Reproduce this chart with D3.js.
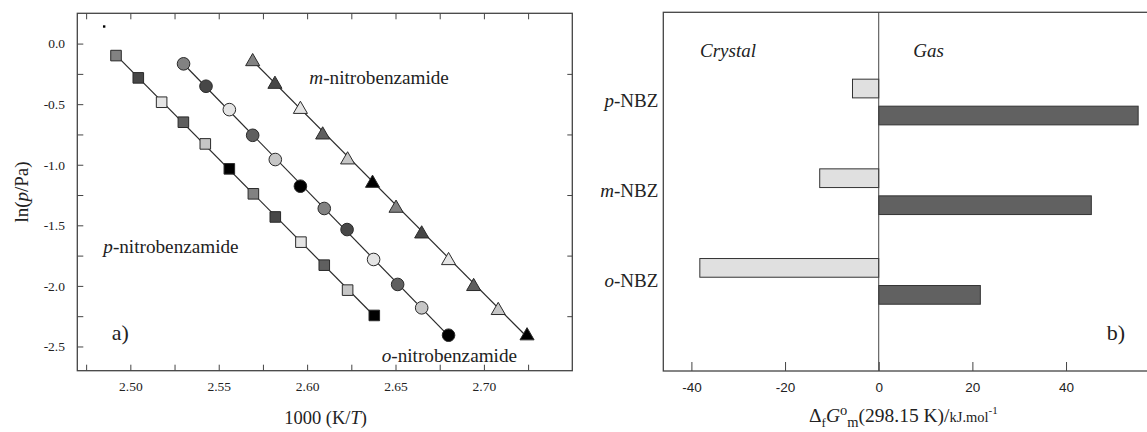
<!DOCTYPE html>
<html>
<head>
<meta charset="utf-8">
<script src="https://cdn.jsdelivr.net/npm/d3@7"></script>
<style>
  html, body { margin: 0; padding: 0; background: #fff; }
  svg { display: block; }
</style>
</head>
<body>
<svg id="chart" width="1147" height="432"></svg>
<script>
// ---- Panel a: vapour pressure, x = 1000 (K/T), y = ln(p/Pa) ----
const pInvT = [2.4919, 2.5045, 2.5177, 2.5300, 2.5424, 2.5560, 2.5696, 2.5820, 2.5965, 2.6097, 2.6229, 2.6380];
const pLnP  = [-0.099, -0.283, -0.484, -0.649, -0.828, -1.034, -1.240, -1.431, -1.639, -1.829, -2.035, -2.244];
const oInvT = [2.5301, 2.5428, 2.5560, 2.5692, 2.5820, 2.5962, 2.6097, 2.6226, 2.6376, 2.6512, 2.6648, 2.6800];
const oLnP  = [-0.167, -0.352, -0.545, -0.757, -0.957, -1.177, -1.361, -1.535, -1.782, -1.988, -2.181, -2.407];
const mInvT = [2.5692, 2.5818, 2.5962, 2.6088, 2.6229, 2.6370, 2.6503, 2.6648, 2.6800, 2.6942, 2.7081, 2.7244];
const mLnP  = [-0.132, -0.319, -0.526, -0.737, -0.943, -1.136, -1.342, -1.554, -1.774, -1.988, -2.186, -2.395];
// isolated small dot near the top-left corner of panel a
const dotInvT = [2.4852];
const dotLnP  = [0.141];

const xMajorTicks = [2.50, 2.55, 2.60, 2.65, 2.70];
const xMinorTicks = [2.475, 2.525, 2.575, 2.625, 2.675, 2.725];
const yMajorTicks = [0.0, -0.5, -1.0, -1.5, -2.0, -2.5];
const yMinorTicks = [-0.25, -0.75, -1.25, -1.75, -2.25];

// ---- Panel b: Gibbs energies of formation (kJ/mol) ----
const compoundPrefix = ["p", "m", "o"];
const compoundName   = ["-NBZ", "-NBZ", "-NBZ"];
const crystalG = [-5.6, -12.6, -38.2];
const gasG     = [55.4, 45.4, 21.7];
const gTicks   = [-40, -20, 0, 20, 40];

// ---- styling ----
const SERIF = "'Liberation Serif', 'Times New Roman', serif";
const SANS  = "'Liberation Sans', Arial, sans-serif";
const INK = "#222";
const FRAME = "#444";
// SigmaPlot-style cycling grey fills for consecutive symbols
const fillCycle = ["#828282", "#474747", "#e4e4e4", "#5f5f5f", "#c6c6c6", "#000000"];

const svg = d3.select("#chart");

// ================= Panel a =================
const x = d3.scaleLinear([2.47, 2.75], [77.3, 572.3]);
const y = d3.scaleLinear([-2.7, 0.25], [370.7, 13.3]);
const pa = svg.append("g");

function styleAxis(g) {
  g.select(".domain").remove();
  g.selectAll(".tick line").attr("stroke", FRAME).attr("stroke-width", 1);
  g.selectAll(".tick text").attr("fill", INK).attr("font-family", SERIF).attr("font-size", 13.5);
}

// bottom axis (labels + inward ticks)
pa.append("g").attr("transform", `translate(0,${y.range()[0]})`)
  .call(d3.axisBottom(x).tickValues(xMajorTicks).tickSize(-6).tickPadding(11.2)
        .tickFormat(d => d.toFixed(2)))
  .call(styleAxis);
pa.append("g").attr("transform", `translate(0,${y.range()[0]})`)
  .call(d3.axisBottom(x).tickValues(xMinorTicks).tickSize(-6).tickFormat(""))
  .call(styleAxis);
// top axis, ticks only
pa.append("g").attr("transform", `translate(0,${y.range()[1]})`)
  .call(d3.axisTop(x).tickValues(xMajorTicks.concat(xMinorTicks)).tickSize(-6).tickFormat(""))
  .call(styleAxis);
// left axis
pa.append("g").attr("transform", `translate(${x.range()[0]},0)`)
  .call(d3.axisLeft(y).tickValues(yMajorTicks).tickSize(-6).tickPadding(12.3)
        .tickFormat(d => d.toFixed(1)))
  .call(styleAxis);
pa.append("g").attr("transform", `translate(${x.range()[0]},0)`)
  .call(d3.axisLeft(y).tickValues(yMinorTicks).tickSize(-6).tickFormat(""))
  .call(styleAxis);
// right axis, minor ticks only
pa.append("g").attr("transform", `translate(${x.range()[1]},0)`)
  .call(d3.axisRight(y).tickValues(yMinorTicks).tickSize(-5).tickFormat(""))
  .call(styleAxis);

// frame
pa.append("rect")
  .attr("x", x.range()[0]).attr("y", y.range()[1])
  .attr("width", x.range()[1] - x.range()[0]).attr("height", y.range()[0] - y.range()[1])
  .attr("fill", "none").attr("stroke", FRAME).attr("stroke-width", 1.3);

// least-squares line over each series' range
function fitLine(xs, ys) {
  const mx = d3.mean(xs), my = d3.mean(ys);
  const sxy = d3.sum(xs, (v, i) => (v - mx) * (ys[i] - my));
  const sxx = d3.sum(xs, v => (v - mx) * (v - mx));
  const b = sxy / sxx, a = my - b * mx;
  const x0 = d3.min(xs), x1 = d3.max(xs);
  return [[x0, a + b * x0], [x1, a + b * x1]];
}

// triangle centred on its bounding box
const boxTriangle = {
  draw(ctx, size) {
    const s = Math.sqrt(size * 4 / Math.sqrt(3));
    const h = s * Math.sqrt(3) / 2;
    ctx.moveTo(0, -h / 2);
    ctx.lineTo(s / 2, h / 2);
    ctx.lineTo(-s / 2, h / 2);
    ctx.closePath();
  }
};

const seriesA = [
  { xs: pInvT, ys: pLnP, type: d3.symbolSquare, size: 112 },
  { xs: oInvT, ys: oLnP, type: d3.symbolCircle, size: 125 },
  { xs: mInvT, ys: mLnP, type: boxTriangle, size: 86 }
];

const lineGen = d3.line().x(d => x(d[0])).y(d => y(d[1]));
seriesA.forEach(s => {
  pa.append("path").attr("d", lineGen(fitLine(s.xs, s.ys)))
    .attr("fill", "none").attr("stroke", "#2a2a2a").attr("stroke-width", 1.2);
});
seriesA.forEach(s => {
  const sym = d3.symbol().type(s.type).size(s.size);
  pa.append("g").selectAll("path").data(s.xs.map((v, i) => [v, s.ys[i], i])).join("path")
    .attr("transform", d => `translate(${x(d[0])},${y(d[1])})`)
    .attr("d", sym())
    .attr("fill", d => fillCycle[d[2] % fillCycle.length])
    .attr("stroke", "#2a2a2a").attr("stroke-width", 1);
});

pa.append("g").selectAll("rect").data(dotInvT.map((v, i) => [v, dotLnP[i]])).join("rect")
  .attr("x", d => x(d[0]) - 1.2).attr("y", d => y(d[1]) - 1.2)
  .attr("width", 2.4).attr("height", 2.4).attr("fill", "#000");

// series labels
function label(g, xp, yp, ital, rest, size) {
  const t = g.append("text").attr("x", xp).attr("y", yp)
    .attr("font-family", SERIF).attr("font-size", size).attr("fill", INK);
  t.append("tspan").attr("font-style", "italic").text(ital);
  t.append("tspan").text(rest);
  return t;
}
label(pa, 309.3, 84, "m", "-nitrobenzamide", 19.2);
label(pa, 103.3, 253.3, "p", "-nitrobenzamide", 19.2);
label(pa, 381.7, 361.7, "o", "-nitrobenzamide", 19.2);

pa.append("text").attr("x", 111.7).attr("y", 339.5)
  .attr("font-family", SERIF).attr("font-size", 22).attr("fill", INK).text("a)");

// axis titles
const xt = pa.append("text").attr("x", 325.6).attr("y", 423.5).attr("text-anchor", "middle")
  .attr("font-family", SERIF).attr("font-size", 18.5).attr("fill", INK);
xt.append("tspan").text("1000 (K/");
xt.append("tspan").attr("font-style", "italic").text("T");
xt.append("tspan").text(")");

const yt = pa.append("text").attr("transform", "translate(28,192) rotate(-90)")
  .attr("text-anchor", "middle")
  .attr("font-family", SERIF).attr("font-size", 19).attr("fill", INK);
yt.append("tspan").text("ln(");
yt.append("tspan").attr("font-style", "italic").text("p");
yt.append("tspan").text("/Pa)");

// ================= Panel b =================
const gx = d3.scaleLinear([-46, 60], [663.3, 1159.7]);
const gy = d3.scaleLinear([0, 4], [12.3, 371]);
const pb = svg.append("g");

pb.append("g").attr("transform", `translate(0,${gy.range()[1]})`)
  .call(d3.axisBottom(gx).tickValues(gTicks).tickSize(-9).tickPadding(11.2).tickFormat(d => String(d)))
  .call(g => {
    g.select(".domain").remove();
    g.selectAll(".tick line").attr("stroke", FRAME).attr("stroke-width", 1);
    g.selectAll(".tick text").attr("fill", INK).attr("font-family", SANS).attr("font-size", 13.5);
  });

// frame (right side lies beyond the drawing area)
pb.append("rect")
  .attr("x", gx.range()[0]).attr("y", gy.range()[0])
  .attr("width", gx.range()[1] - gx.range()[0]).attr("height", gy.range()[1] - gy.range()[0])
  .attr("fill", "none").attr("stroke", FRAME).attr("stroke-width", 1.3);

const barH = 18.7;
const rows = compoundPrefix.map((p, i) => ({ i, crystal: crystalG[i], gas: gasG[i] }));

pb.append("g").selectAll("rect").data(rows).join("rect")
  .attr("x", d => gx(Math.min(0, d.crystal)))
  .attr("width", d => Math.abs(gx(d.crystal) - gx(0)))
  .attr("y", d => gy(d.i + 1) - 22.8)
  .attr("height", barH)
  .attr("fill", "#e0e0e0").attr("stroke", "#333").attr("stroke-width", 1);

pb.append("g").selectAll("rect").data(rows).join("rect")
  .attr("x", d => gx(Math.min(0, d.gas)))
  .attr("width", d => Math.abs(gx(d.gas) - gx(0)))
  .attr("y", d => gy(d.i + 1) + 4.2)
  .attr("height", barH)
  .attr("fill", "#616161").attr("stroke", "#333").attr("stroke-width", 1);

// zero line
pb.append("line")
  .attr("x1", gx(0)).attr("x2", gx(0))
  .attr("y1", gy.range()[0]).attr("y2", gy.range()[1])
  .attr("stroke", FRAME).attr("stroke-width", 1);

// category labels
rows.forEach(d => {
  label(pb, 658.3, gy(d.i + 1) + 5.5, compoundPrefix[d.i], compoundName[d.i], 19)
    .attr("text-anchor", "end");
});

pb.append("text").attr("x", 700).attr("y", 56.7)
  .attr("font-family", SERIF).attr("font-size", 19).attr("font-style", "italic").attr("fill", INK)
  .text("Crystal");
pb.append("text").attr("x", 913.3).attr("y", 56.7)
  .attr("font-family", SERIF).attr("font-size", 19).attr("font-style", "italic").attr("fill", INK)
  .text("Gas");
pb.append("text").attr("x", 1106.7).attr("y", 339.5)
  .attr("font-family", SERIF).attr("font-size", 22).attr("fill", INK).text("b)");

// x title: Δf G°m (298.15 K) / kJ.mol-1
const gt = pb.append("text").attr("x", 809).attr("y", 422)
  .attr("font-family", SERIF).attr("font-size", 19.5).attr("fill", INK);
gt.append("tspan").text("Δ");
gt.append("tspan").attr("font-size", 13).attr("dy", 5).text("f");
gt.append("tspan").attr("font-style", "italic").attr("font-size", 19.5).attr("dy", -5).text("G");
gt.append("tspan").attr("font-size", 14.5).attr("dy", -7).text("o");
gt.append("tspan").attr("font-size", 14.5).attr("dy", 12).text("m");
gt.append("tspan").attr("dy", -5).text("(298.15 K)/");
gt.append("tspan").attr("font-size", 14.5).text("kJ.mol");
gt.append("tspan").attr("font-size", 11).attr("dy", -8).text("-1");
</script>
</body>
</html>
